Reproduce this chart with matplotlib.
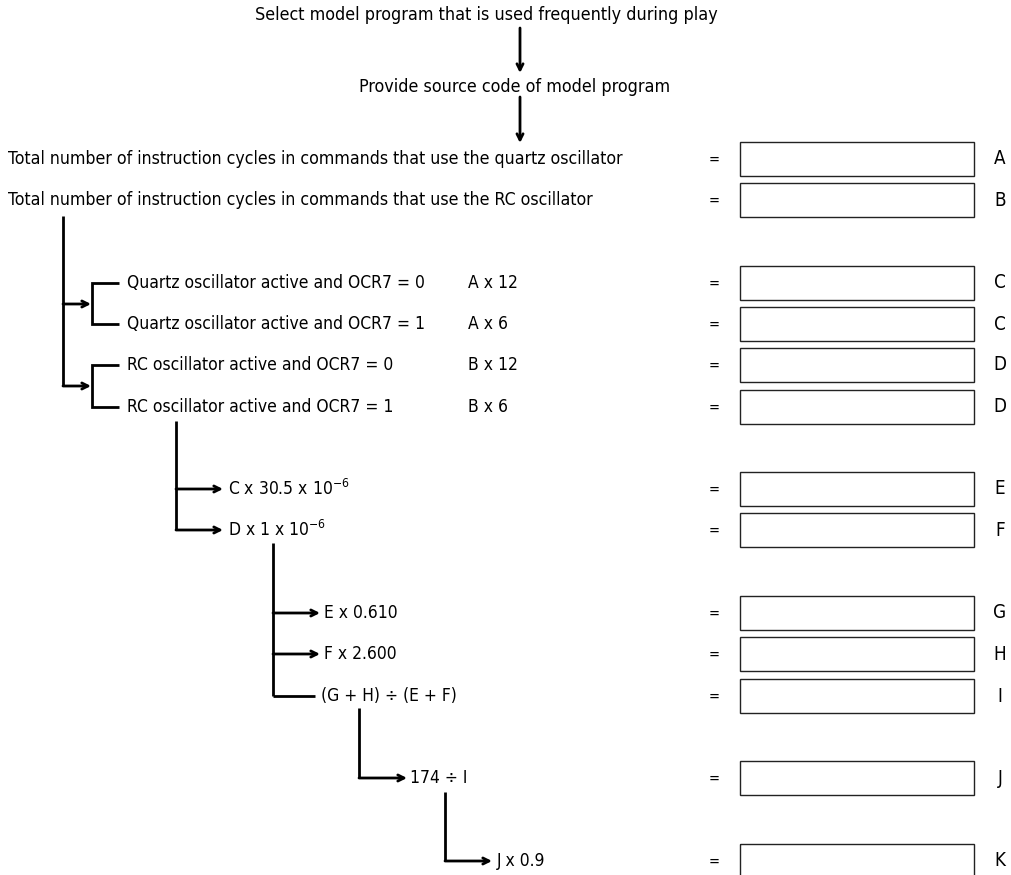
import matplotlib
matplotlib.use("Agg")
import matplotlib.pyplot as plt
from matplotlib.patches import Rectangle, FancyArrowPatch

plt.rcParams['font.family'] = ['DejaVu Sans']
plt.rcParams['font.stretch'] = 'condensed'
plt.rcParams['mathtext.fontset'] = 'custom'
plt.rcParams['mathtext.rm'] = 'DejaVu Sans:stretch=condensed'

# texts of the flow
top_steps = ["Select model program that is used frequently during play",
             "Provide source code of model program"]
totals = ["Total number of instruction cycles in commands that use the quartz oscillator",
          "Total number of instruction cycles in commands that use the RC oscillator"]
conditions = ["Quartz oscillator active and OCR7 = 0",
              "Quartz oscillator active and OCR7 = 1",
              "RC oscillator active and OCR7 = 0",
              "RC oscillator active and OCR7 = 1"]
multipliers = ["A x 12", "A x 6", "B x 12", "B x 6"]
times = [r"C x 30.5 x 10$^{-6}$", r"D x 1 x 10$^{-6}$"]
currents = ["E x 0.610", "F x 2.600", "(G + H) \u00f7 (E + F)"]
life = ["174 \u00f7 I", "J x 0.9"]
letters = ["A", "B", "C", "C", "D", "D", "E", "F", "G", "H", "I", "J", "K"]

# layout (pixels from top)
row_y = [159, 200, 283, 324, 365, 407, 489, 530, 613, 654, 696, 778, 861]
fs = 12.5
lw = 2.0

fig = plt.figure(figsize=(10.12, 8.75), dpi=100)
ax = fig.add_axes([0, 0, 1, 1])
ax.set_xlim(0, 1012)
ax.set_ylim(875, 0)
ax.axis('off')


def line(xs, ys):
    ax.plot(xs, ys, color='black', lw=lw, solid_capstyle='butt', solid_joinstyle='miter')


def arrow(x0, y0, x1, y1):
    ax.add_patch(FancyArrowPatch((x0, y0), (x1, y1), arrowstyle='->', lw=lw,
                                 color='black', shrinkA=0, shrinkB=0,
                                 mutation_scale=11))


def label(x, y, s, **kw):
    ax.text(x, y, s, ha=kw.pop('ha', 'left'), va='center', fontsize=kw.pop('size', fs), **kw)


# top part
label(486, 15, top_steps[0], ha='center', size=12.9)
arrow(520, 28, 520, 73)
label(515, 87, top_steps[1], ha='center', size=12.9)
arrow(520, 97, 520, 143)

for i, t in enumerate(totals):
    label(8, row_y[i], t, size=12.7)

# branch to the conditions
line([63, 63], [216, 386])
arrow(63, 304, 91, 304)
arrow(63, 386, 91, 386)
for k in range(2):
    ya, yb = row_y[2 + 2 * k], row_y[3 + 2 * k]
    line([119, 92, 92, 119], [ya, ya, yb, yb])
for i, t in enumerate(conditions):
    label(127, row_y[2 + i], t)
    label(468, row_y[2 + i], multipliers[i])

# time
line([176, 176], [421, row_y[7]])
for i, t in enumerate(times):
    arrow(176, row_y[6 + i], 223, row_y[6 + i])
    label(228, row_y[6 + i], t)

# currents
line([273, 273], [543, row_y[10]])
arrow(273, row_y[8], 320, row_y[8])
arrow(273, row_y[9], 320, row_y[9])
line([273, 315], [row_y[10], row_y[10]])
for i, t in enumerate(currents):
    label(324 if i < 2 else 321, row_y[8 + i], t)

# battery life
line([359, 359], [708, row_y[11]])
arrow(359, row_y[11], 407, row_y[11])
label(410, row_y[11], life[0])
line([445, 445], [792, row_y[12]])
arrow(445, row_y[12], 492, row_y[12])
label(497, row_y[12], life[1])

# answer boxes
for y, letter in zip(row_y, letters):
    label(714, y, "=", ha='center', size=fs - 2)
    ax.add_patch(Rectangle((740, y - 17), 234, 34, fill=False,
                           edgecolor='#222222', lw=1.0))
    label(1000, y, letter, ha='center', size=fs + 1)

fig.savefig("out.png", dpi=100)
